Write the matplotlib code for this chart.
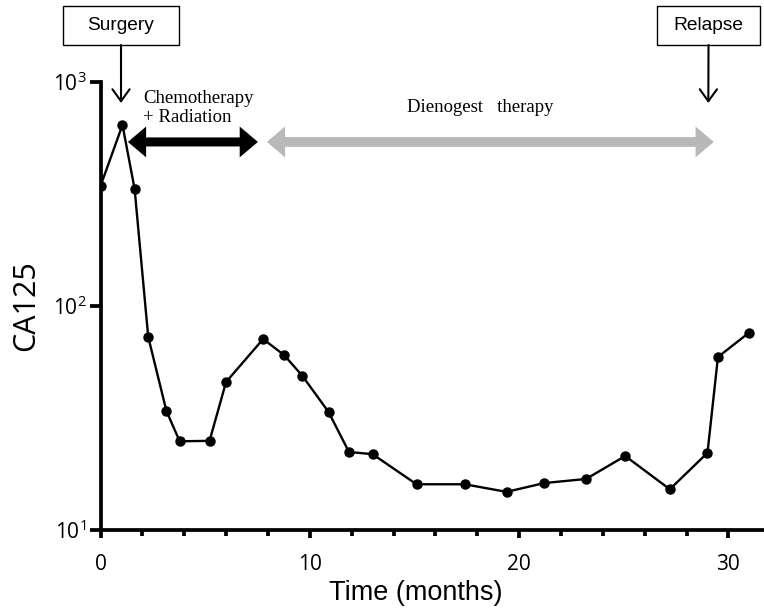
import matplotlib
matplotlib.use('Agg')
from matplotlib import pyplot as plt
from matplotlib.patches import Rectangle

# CA125 values (log scale)
months = [0.0, 1.05, 1.63, 2.28, 3.15, 3.78, 5.21, 6.0, 7.77, 8.77, 9.65, 10.9,
          11.87, 13.0, 15.1, 17.4, 19.4, 21.2, 23.2, 25.07, 27.2, 29.0, 29.5, 30.96]
ca125 = [343, 643, 333, 72.8, 34.0, 24.9, 25.0, 45.8, 71.2, 60.4, 48.7, 33.6,
         22.3, 21.8, 16.0, 16.0, 14.8, 16.2, 16.9, 21.4, 15.2, 22.1, 59.2, 75.7]

xticks = [0, 10, 20, 30]
yticks = [10, 100, 1000]
ytick_labels = ['$\\mathregular{10^1}$', '$\\mathregular{10^2}$', '$\\mathregular{10^3}$']

# treatment periods (months) and event months
chemo_span = (1.31, 7.52)
dienogest_span = (7.95, 29.3)
surgery_month = 0.98
relapse_month = 29.04

W, H = 764, 608

def fx(px):
    return px / W

def fy(py):
    return 1 - py / H

fig = plt.figure(figsize=(7.64, 6.08), dpi=100)
ax = fig.add_axes([fx(100.5), fy(530), 1 - fx(100.5), fy(82) - fy(530)])

ax.plot(months, ca125, color='black', lw=1.7, marker='o', ms=6.5, zorder=5)

ax.set_yscale('log')
ax.set_ylim(10, 1000)
ax.set_xlim(0, 31.7)
ax.set_yticks(yticks, ytick_labels)
ax.minorticks_off()
ax.set_xticks(xticks)
ax.set_xticks(range(0, 32, 2), minor=True)

for s in ['top', 'right']:
    ax.spines[s].set_visible(False)
for s in ['left', 'bottom']:
    ax.spines[s].set_linewidth(2.7)
ax.tick_params(which='both', width=2.7, labelsize=15, labelfontfamily='Open Sans')
ax.tick_params(axis='y', which='major', length=8, pad=2)
ax.tick_params(axis='x', which='major', length=6, pad=11)
ax.tick_params(axis='x', which='minor', length=4.3)

ax.set_ylabel('CA125', fontsize=22, family='Open Sans')
ax.yaxis.set_label_coords(-0.089, 0.5)
ax.set_xlabel('Time (months)', fontsize=19.5, family='Liberation Sans')
ax.xaxis.set_label_coords(0.475, -0.112)

# treatment arrows: a plain shaft plus a filled head at each end
arrow_y = 540
head_len = 10  # points
for (a, b), col, shaft in [(chemo_span, 'black', 6.5), (dienogest_span, '#b8b8b8', 7.0)]:
    ax.annotate('', xy=(b, arrow_y), xytext=(a, arrow_y),
                arrowprops=dict(arrowstyle='-', lw=shaft, color=col, capstyle='butt',
                                shrinkA=head_len - 1, shrinkB=head_len - 1))
    mid = (a + b) / 2
    for end in (a, b):
        ax.annotate('', xy=(end, arrow_y), xytext=(mid, arrow_y),
                    arrowprops=dict(arrowstyle='-|>,head_length=1.31,head_width=1.11',
                                    mutation_scale=10, lw=0, color=col,
                                    shrinkA=0, shrinkB=0))

ax.text(2.03, 766, 'Chemotherapy\n+ Radiation', fontsize=13.5,
        family='Liberation Serif', ha='left', va='center', linespacing=1.1)
ax.text(14.64, 766, 'Dienogest   therapy', fontsize=13.5,
        family='Liberation Serif', ha='left', va='center')

# event boxes with arrows
for label, month, (x0, x1) in [('Surgery', surgery_month, (63, 179)),
                               ('Relapse', relapse_month, (657, 760))]:
    fig.add_artist(Rectangle((fx(x0), fy(45)), fx(x1 - x0), fy(6) - fy(45),
                             transform=fig.transFigure, fill=False,
                             lw=1.0, ec='black'))
    fig.text(fx((x0 + x1) / 2), fy(25.5), label, fontsize=13.8,
             family='Liberation Sans', ha='center', va='center')
    ax.annotate('', xy=(month, 806), xycoords='data',
                xytext=(fx((x0 + x1) / 2), fy(45)), textcoords='figure fraction',
                arrowprops=dict(arrowstyle='->,head_length=0.43,head_width=0.31',
                                mutation_scale=20, lw=1.5, color='black',
                                shrinkA=0, shrinkB=0))

plt.savefig('out.png', dpi=100)
